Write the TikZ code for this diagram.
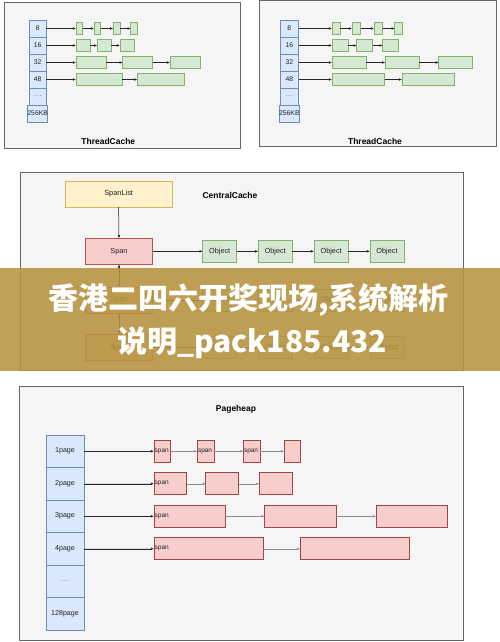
\documentclass[tikz,border=0pt]{standalone}
\usepackage{fontspec}
\setmainfont{Liberation Sans}
\newfontfamily\cjk{Noto Sans CJK SC}
\usetikzlibrary{arrows.meta}
\definecolor{pfill}{HTML}{F5F5F5}
\definecolor{pborder}{HTML}{666666}
\definecolor{bfill}{HTML}{DAE8FC}
\definecolor{bborder}{HTML}{6C8EBF}
\definecolor{gfill}{HTML}{D5E8D4}
\definecolor{gborder}{HTML}{82B366}
\definecolor{yfill}{HTML}{FFF2CC}
\definecolor{yborder}{HTML}{D6B656}
\definecolor{rfill}{HTML}{F8CECC}
\definecolor{rborder}{HTML}{B85450}
\definecolor{txt}{HTML}{222222}
\definecolor{bandc}{RGB}{183,147,62}
\newcommand{\rbox}[7]{%
  \pgfmathsetmacro\rbX{(#3+#5)/2}\pgfmathsetmacro\rbY{(#4+#6)/2}%
  \pgfmathsetmacro\rbW{#5-#3}\pgfmathsetmacro\rbH{#6-#4}%
  \node[#1, minimum width=\rbW pt, minimum height=\rbH pt] (#2) at (\rbX,\rbY) {#7};}
\begin{document}
\begin{tikzpicture}[x=1pt,y=-1pt,
  panel/.style={draw=pborder, fill=pfill, line width=1pt, inner sep=0, outer sep=0},
  cell/.style={draw=bborder, fill=bfill, line width=0.8pt, inner sep=0, outer sep=0, text=txt, font=\fontsize{6.8}{7}\selectfont},
  pcell/.style={cell, font=\fontsize{7.1}{8}\selectfont},
  gbox/.style={draw=gborder, fill=gfill, line width=0.8pt, inner sep=0, outer sep=0},
  obox/.style={gbox, text=txt, font=\fontsize{7.3}{8}\selectfont},
  ybox/.style={draw=yborder, fill=yfill, line width=0.8pt, inner sep=0, outer sep=0, text=txt, font=\fontsize{7.4}{8}\selectfont},
  rbox/.style={draw=rborder, fill=rfill, line width=0.8pt, inner sep=0, outer sep=0, text=txt, font=\fontsize{7.3}{8}\selectfont},
  sbox/.style={draw=rborder!85!black, fill=rfill, line width=1pt, inner sep=0, outer sep=0},
  spanlbl/.style={label={[anchor=west, inner sep=0.5pt, text=txt, font=\fontsize{6.5}{7}\selectfont]west:span}},
  title/.style={font=\bfseries\fontsize{8.5}{9}\selectfont, text=black},
  arr/.style={-{Latex[length=3.2pt,width=2.6pt]}, line width=0.5pt, draw=black!85, fill=black!85},
  darr/.style={{Latex[length=3.2pt,width=2.6pt]}-{Latex[length=3.2pt,width=2.6pt]}, line width=0.5pt, draw=black!85},
  garr/.style={-{Latex[length=3pt,width=2.4pt]}, line width=0.5pt, draw=black!45},
  overlay/.style={text=white, font=\cjk\bfseries\fontsize{30}{30}\selectfont}
]
\useasboundingbox (0,0) rectangle (500,642);
\fill[white] (0,0) rectangle (500,642);

% ===== ThreadCache 1 =====
\rbox{panel}{tc1}{4.7}{2.7}{240.7}{148.7}{}
\node[title] (tc1t) at (108.3,141.3) {ThreadCache};
\rbox{cell}{ta8}{29.3}{20}{46}{37}{8}
\rbox{cell}{ta16}{29.3}{37}{46}{54}{16}
\rbox{cell}{ta32}{29.3}{54}{46}{71}{32}
\rbox{cell}{ta48}{29.3}{71}{46}{88}{48}
\rbox{cell}{tad}{29.3}{88}{46}{105}{\textcolor{gray}{....}}
\rbox{cell}{tak}{29.3}{105}{46}{122}{256KB}
\rbox{gbox}{ta8a}{76}{22.5}{82.7}{34.5}{}
\rbox{gbox}{ta8b}{94}{22.5}{100.7}{34.5}{}
\rbox{gbox}{ta8c}{113.3}{22.5}{120}{34.5}{}
\rbox{gbox}{ta8d}{130.7}{22.5}{137.3}{34.5}{}
\rbox{gbox}{ta16a}{76}{39.5}{90}{51.5}{}
\rbox{gbox}{ta16b}{97.3}{39.5}{111.3}{51.5}{}
\rbox{gbox}{ta16c}{120}{39.5}{134.7}{51.5}{}
\rbox{gbox}{ta32a}{76}{56.5}{106}{68.5}{}
\rbox{gbox}{ta32b}{122.7}{56.5}{152.7}{68.5}{}
\rbox{gbox}{ta32c}{170}{56.5}{200}{68.5}{}
\rbox{gbox}{ta48a}{76}{73.3}{122}{85.7}{}
\rbox{gbox}{ta48b}{137.3}{73.3}{184}{85.7}{}
\draw[arr] (ta8.east) -- (ta8a.west);
\draw[arr] (ta8a.east) -- (ta8b.west);
\draw[arr] (ta8b.east) -- (ta8c.west);
\draw[arr] (ta8c.east) -- (ta8d.west);
\draw[arr] (ta16.east) -- (ta16a.west);
\draw[arr] (ta16a.east) -- (ta16b.west);
\draw[arr] (ta16b.east) -- (ta16c.west);
\draw[arr] (ta32.east) -- (ta32a.west);
\draw[arr] (ta32a.east) -- (ta32b.west);
\draw[arr] (ta32b.east) -- (ta32c.west);
\draw[arr] (ta48.east) -- (ta48a.west);
\draw[arr] (ta48a.east) -- (ta48b.west);

% ===== ThreadCache 2 =====
\rbox{panel}{tc2}{259}{1}{496.7}{146.7}{}
\node[title] (tc2t) at (375,141.3) {ThreadCache};
\rbox{cell}{tb8}{280}{20}{298.7}{37}{8}
\rbox{cell}{tb16}{280}{37}{298.7}{54}{16}
\rbox{cell}{tb32}{280}{54}{298.7}{71}{32}
\rbox{cell}{tb48}{280}{71}{298.7}{88}{48}
\rbox{cell}{tbd}{280}{88}{298.7}{105}{\textcolor{gray}{....}}
\rbox{cell}{tbk}{280}{105}{298.7}{122}{256KB}
\rbox{gbox}{tb8a}{332}{22.5}{340}{34.5}{}
\rbox{gbox}{tb8b}{352}{22.5}{360.7}{34.5}{}
\rbox{gbox}{tb8c}{374}{22.5}{382.7}{34.5}{}
\rbox{gbox}{tb8d}{394.7}{22.5}{402.7}{34.5}{}
\rbox{gbox}{tb16a}{332}{39.5}{348}{51.5}{}
\rbox{gbox}{tb16b}{356.7}{39.5}{372.7}{51.5}{}
\rbox{gbox}{tb16c}{382.7}{39.5}{398.7}{51.5}{}
\rbox{gbox}{tb32a}{332}{56.5}{366}{68.5}{}
\rbox{gbox}{tb32b}{385.3}{56.5}{419.3}{68.5}{}
\rbox{gbox}{tb32c}{438.7}{56.5}{472.7}{68.5}{}
\rbox{gbox}{tb48a}{332}{73.3}{384.7}{85.7}{}
\rbox{gbox}{tb48b}{402}{73.3}{454.7}{85.7}{}
\draw[arr] (tb8.east) -- (tb8a.west);
\draw[arr] (tb8a.east) -- (tb8b.west);
\draw[arr] (tb8b.east) -- (tb8c.west);
\draw[arr] (tb8c.east) -- (tb8d.west);
\draw[arr] (tb16.east) -- (tb16a.west);
\draw[arr] (tb16a.east) -- (tb16b.west);
\draw[arr] (tb16b.east) -- (tb16c.west);
\draw[arr] (tb32.east) -- (tb32a.west);
\draw[arr] (tb32a.east) -- (tb32b.west);
\draw[arr] (tb32b.east) -- (tb32c.west);
\draw[arr] (tb48.east) -- (tb48a.west);
\draw[arr] (tb48a.east) -- (tb48b.west);

% ===== CentralCache =====
\rbox{panel}{cc}{20}{172.3}{463.3}{370}{}
\node[title] (cct) at (230,195) {CentralCache};
\rbox{ybox}{sl}{65.3}{181}{172}{207}{SpanList}
\rbox{rbox}{s1}{85.3}{238.3}{152.7}{264.3}{Span}
\rbox{rbox}{s2}{85.3}{287}{152.7}{313}{Span}
\rbox{rbox}{s3}{85.3}{334.5}{152.7}{360.5}{Span}
\rbox{obox}{o1a}{202.7}{240.3}{236.7}{262.3}{Object}
\rbox{obox}{o1b}{258.3}{240.3}{292.3}{262.3}{Object}
\rbox{obox}{o1c}{314}{240.3}{348.3}{262.3}{Object}
\rbox{obox}{o1d}{370}{240.3}{404}{262.3}{Object}
\rbox{obox}{o2a}{202.7}{289}{236.7}{311}{Object}
\rbox{obox}{o2b}{258.3}{289}{292.3}{311}{Object}
\rbox{obox}{o2c}{314}{289}{348.3}{311}{Object}
\rbox{obox}{o2d}{370}{289}{404}{311}{Object}
\rbox{obox}{o3a}{202.7}{336.5}{236.7}{358.5}{Object}
\rbox{obox}{o3b}{258.3}{336.5}{292.3}{358.5}{Object}
\rbox{obox}{o3c}{314}{336.5}{348.3}{358.5}{Object}
\rbox{obox}{o3d}{370}{336.5}{404}{358.5}{Object}
\draw[arr] (sl.south) -- (s1.north);
\draw[darr] (s1.south) -- (s2.north);
\draw[darr] (s2.south) -- (s3.north);
\foreach \r in {1,2,3}{
  \draw[arr] (s\r.east) -- (o\r a.west);
  \draw[arr] (o\r a.east) -- (o\r b.west);
  \draw[arr] (o\r b.east) -- (o\r c.west);
  \draw[arr] (o\r c.east) -- (o\r d.west);
}

% ===== Pageheap =====
\rbox{panel}{ph}{19}{386.7}{463.3}{640.7}{}
\node[title] (pht) at (236,409.3) {Pageheap};
\rbox{pcell}{p1}{46}{435}{84}{467.5}{1page}
\rbox{pcell}{p2}{46}{467.5}{84}{500}{2page}
\rbox{pcell}{p3}{46}{500}{84}{532.5}{3page}
\rbox{pcell}{p4}{46}{532.5}{84}{565}{4page}
\rbox{pcell}{pd}{46}{565}{84}{597.5}{\textcolor{gray}{....}}
\rbox{pcell}{p128}{46}{597.5}{84}{630}{128page}
\rbox{sbox,spanlbl}{p1a}{154}{440.25}{170.7}{462.25}{}
\rbox{sbox,spanlbl}{p1b}{197.3}{440.25}{214}{462.25}{}
\rbox{sbox,spanlbl}{p1c}{243.3}{440.25}{260}{462.25}{}
\rbox{sbox}{p1d}{284}{440.25}{300.7}{462.25}{}
\rbox{sbox,spanlbl}{p2a}{154}{472.75}{186.7}{494.75}{}
\rbox{sbox}{p2b}{205.7}{472.75}{238.7}{494.75}{}
\rbox{sbox}{p2c}{259.3}{472.75}{292.7}{494.75}{}
\rbox{sbox,spanlbl}{p3a}{154}{505.25}{225}{527.25}{}
\rbox{sbox}{p3b}{264.7}{505.25}{336}{527.25}{}
\rbox{sbox}{p3c}{376}{505.25}{447}{527.25}{}
\rbox{sbox,spanlbl}{p4a}{154}{537.75}{263.3}{559.75}{}
\rbox{sbox}{p4b}{300.3}{537.75}{409}{559.75}{}
\draw[arr] (p1.east) -- (p1a.west);
\draw[arr] (p2.east) -- (p2a.west);
\draw[arr] (p3.east) -- (p3a.west);
\draw[arr] (p4.east) -- (p4a.west);
\draw[garr] (p1a.east) -- (p1b.west);
\draw[garr] (p1b.east) -- (p1c.west);
\draw[garr] (p1c.east) -- (p1d.west);
\draw[garr] (p2a.east) -- (p2b.west);
\draw[garr] (p2b.east) -- (p2c.west);
\draw[garr] (p3a.east) -- (p3b.west);
\draw[garr] (p3b.east) -- (p3c.west);
\draw[garr] (p4a.east) -- (p4b.west);

% ===== overlay band =====
\fill[bandc, opacity=0.88] (0,268.3) rectangle (500,371);
\node[overlay] (ov1) at (248.5,300) {香港二四六开奖现场,系统解析};
\node[overlay] (ov2) at (252,343) {说明\_pack185.432};
\end{tikzpicture}
\end{document}
